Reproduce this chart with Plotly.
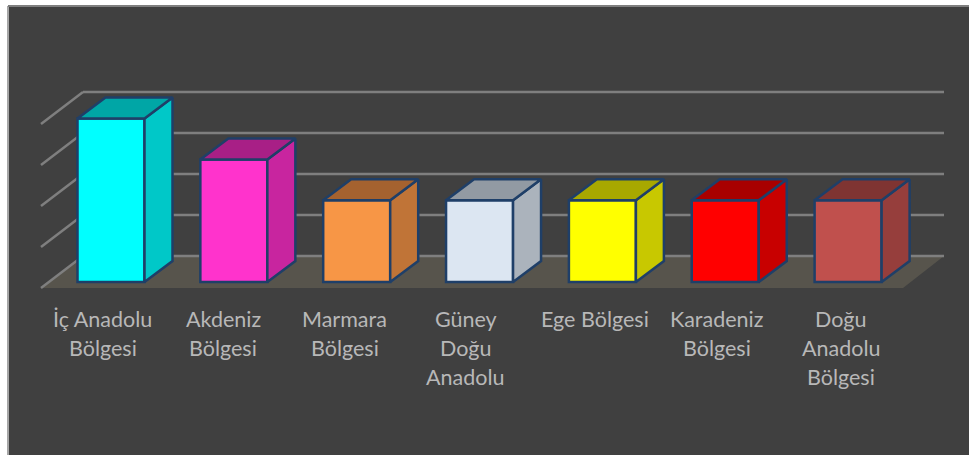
import plotly.graph_objects as go

categories = ["İç Anadolu Bölgesi", "Akdeniz Bölgesi", "Marmara Bölgesi", "Güney Doğu Anadolu",
              "Ege Bölgesi", "Karadeniz Bölgesi", "Doğu Anadolu Bölgesi"]
label_lines = [["İç Anadolu", "Bölgesi"], ["Akdeniz", "Bölgesi"], ["Marmara", "Bölgesi"],
               ["Güney", "Doğu", "Anadolu"], ["Ege Bölgesi"], ["Karadeniz", "Bölgesi"],
               ["Doğu", "Anadolu", "Bölgesi"]]
values = [4, 3, 2, 2, 2, 2, 2]
front_colors = ["#00FFFF", "#FF33CC", "#F79646", "#DCE6F2", "#FFFF00", "#FF0000", "#C0504D"]
side_colors = ["#00C8C8", "#C8259F", "#C07437", "#ABB3BC", "#C8C800", "#C80000", "#963E3C"]
top_colors = ["#00A6A6", "#A81F86", "#A5622F", "#929AA3", "#A8A800", "#A80000", "#7F3432"]
grid_levels = [0, 1, 2, 3, 4]
label_shift_px = [-8.5, -10.85, -12.2, -14, -7.4, -8, -7.1]

W, H = 969, 455
L, T = 8, 6
X0, STEP = 111.0, 122.85     # pixel of first category, pixels per category
Y0, UNIT = 282.0, 40.85      # pixel of value 0 at the bar front, pixels per unit
BAR_W = 67 / STEP
DX, DY = 28 / STEP, 21 / UNIT   # bar depth
OUTLINE = "#1F3F68"
GRID = "#7F7F7F"

def px_x(p):
    return (p - X0) / STEP

def px_y(p):
    return (Y0 - p) / UNIT

shapes = [dict(type="path", xref="x", yref="y", layer="below", fillcolor="#57544C",
               line=dict(width=0),
               path=f"M{px_x(41)},{px_y(288)} L{px_x(83)},{px_y(256)} L{px_x(944)},{px_y(256)} "
                    f"L{px_x(903)},{px_y(288)} Z")]
for g in grid_levels:
    lift = g * 41 / UNIT
    shapes.append(dict(type="line", xref="x", yref="y", layer="below",
                       x0=px_x(41), y0=px_y(288) + lift, x1=px_x(83), y1=px_y(256) + lift,
                       line=dict(color=GRID, width=2.5)))
    shapes.append(dict(type="line", xref="x", yref="y", layer="below",
                       x0=px_x(83), y0=px_y(256) + lift, x1=px_x(944), y1=px_y(256) + lift,
                       line=dict(color=GRID, width=2.5)))
shapes += [dict(type="line", xref="paper", yref="paper", x0=0, x1=0, y0=0, y1=1,
                line=dict(color="#A6A6A6", width=2)),
           dict(type="line", xref="paper", yref="paper", x0=0, x1=1, y0=1, y1=1,
                line=dict(color="#7F7F7F", width=2))]

fig = go.Figure()

# front faces
fig.add_trace(go.Bar(
    x=list(range(len(values))), y=values, width=BAR_W,
    marker=dict(color=front_colors, line=dict(color=OUTLINE, width=2.5)),
    hovertext=categories, hoverinfo="text+y"))

# side and top faces
for i, v in enumerate(values):
    r = i + BAR_W / 2
    l = i - BAR_W / 2
    fig.add_trace(go.Scatter(
        x=[r, r + DX, r + DX, r, r], y=[0, DY, v + DY, v, 0],
        mode="lines", fill="toself", fillcolor=side_colors[i],
        line=dict(color=OUTLINE, width=2.5), hoverinfo="skip"))
    fig.add_trace(go.Scatter(
        x=[l, l + DX, r + DX, r, l], y=[v, v + DY, v + DY, v, v],
        mode="lines", fill="toself", fillcolor=top_colors[i],
        line=dict(color=OUTLINE, width=2.5), hoverinfo="skip"))

# category labels, one annotation per line for the wide line spacing
annotations = []
for i, lines in enumerate(label_lines):
    for j, line in enumerate(lines):
        annotations.append(dict(
            x=i + label_shift_px[i] / STEP, y=px_y(318.5 + j * 29.3), text=line,
            xref="x", yref="y", showarrow=False, xanchor="center", yanchor="middle",
            font=dict(family="Lato", size=21.5, color="#B8B8B8")))

fig.update_layout(
    width=W, height=H, autosize=False, showlegend=False, barmode="overlay",
    paper_bgcolor="#FFFFFF", plot_bgcolor="#404040",
    margin=dict(l=L, r=0, t=T, b=0),
    xaxis=dict(range=[px_x(L), px_x(W)], visible=False, fixedrange=True),
    yaxis=dict(range=[px_y(H), px_y(T)], visible=False, fixedrange=True),
    annotations=annotations,
    shapes=shapes,
)
fig.write_html("out.html", config=dict(displayModeBar=False),
               post_script="document.body.style.margin='0';document.documentElement.style.overflow='hidden';")
